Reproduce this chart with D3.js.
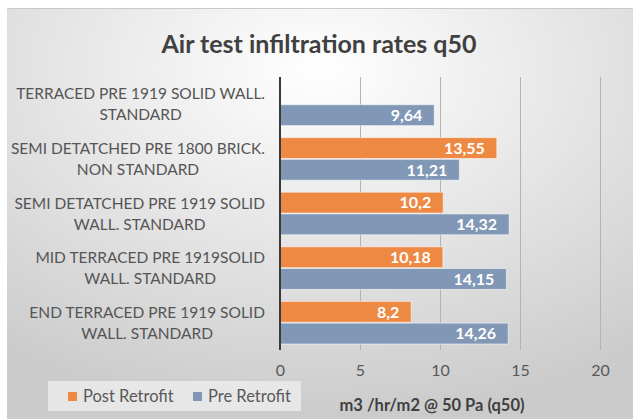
<!DOCTYPE html>
<html>
<head>
<meta charset="utf-8">
<script src="https://cdn.jsdelivr.net/npm/d3@7"></script>
<style>
  body { margin: 0; background: #fff; }
  svg { display: block; font-family: Lato, "Open Sans", sans-serif; }
</style>
</head>
<body>
<svg id="chart" width="633" height="419"></svg>
<script>
const width = 633;
const height = 419;

// data (top to bottom)
const categories = [
    ["TERRACED PRE 1919 SOLID WALL.", "STANDARD"],
    ["SEMI DETATCHED PRE 1800 BRICK.", "NON STANDARD"],
    ["SEMI DETATCHED PRE 1919 SOLID", "WALL. STANDARD"],
    ["MID TERRACED PRE 1919SOLID", "WALL. STANDARD"],
    ["END TERRACED PRE 1919 SOLID", "WALL. STANDARD"]
];
const postRetrofit = [null, 13.55, 10.2, 10.18, 8.2];
const preRetrofit = [9.64, 11.21, 14.32, 14.15, 14.26];
const seriesNames = ["Post Retrofit", "Pre Retrofit"];
const xTicks = [0, 5, 10, 15, 20];

const colors = ["#ee8944", "#8097b5"];
const fmt = v => String(v).replace(".", ",");

const svg = d3.select("#chart");

// background with soft gradient
const defs = svg.append("defs");
const grad = defs.append("radialGradient")
    .attr("id", "bg")
    .attr("cx", "50%").attr("cy", "15%").attr("r", "85%");
grad.append("stop").attr("offset", "0%").attr("stop-color", "#ffffff");
grad.append("stop").attr("offset", "100%").attr("stop-color", "#cbcbcb");

svg.append("rect")
    .attr("x", 7).attr("y", 8)
    .attr("width", width - 7).attr("height", height - 8)
    .attr("fill", "url(#bg)");
svg.append("line")
    .attr("x1", 7).attr("x2", width).attr("y1", 8.5).attr("y2", 8.5)
    .attr("stroke", "#c9c9c9");

const plot = { left: 280, right: 600, top: 77, bottom: 350 };

const x = d3.scaleLinear().domain([0, 20]).range([plot.left, plot.right]);
const y = d3.scaleBand()
    .domain(d3.range(categories.length))
    .range([plot.top, plot.bottom]);
const sub = d3.scaleBand()
    .domain([0, 1])
    .range([6, y.bandwidth() - 6])
    .paddingInner(0.04);

// title
svg.append("text")
    .attr("x", 319).attr("y", 53)
    .attr("text-anchor", "middle")
    .attr("font-size", 25).attr("font-weight", "bold")
    .attr("fill", "#404040")
    .text("Air test infiltration rates q50");

// grid + tick labels
const xAxis = svg.append("g")
    .attr("transform", `translate(0,${plot.bottom})`)
    .call(d3.axisBottom(x).tickValues(xTicks)
        .tickSize(-(plot.bottom - plot.top))
        .tickPadding(15));
xAxis.select(".domain").remove();
xAxis.selectAll(".tick line").attr("stroke", "#b3b3b3");
xAxis.selectAll(".tick text")
    .attr("font-size", 16).attr("fill", "#595959")
    .attr("font-family", "Lato, sans-serif");

// bars
const rows = categories.map((c, i) => [postRetrofit[i], preRetrofit[i]]);
const groups = svg.append("g").selectAll("g")
    .data(rows)
    .enter().append("g")
    .attr("transform", (d, i) => `translate(0,${y(i)})`);

const cells = groups.selectAll("g")
    .data(d => d.map((v, s) => ({ v, s })).filter(e => e.v != null))
    .enter().append("g");

cells.append("rect")
    .attr("x", x(0))
    .attr("y", d => sub(d.s))
    .attr("width", d => x(d.v) - x(0))
    .attr("height", sub.bandwidth())
    .attr("fill", d => colors[d.s])
    .attr("stroke", "rgba(255,255,255,0.55)")
    .attr("stroke-width", 1);

cells.append("text")
    .attr("x", d => x(d.v) - 12)
    .attr("y", d => sub(d.s) + sub.bandwidth() / 2)
    .attr("dy", "0.36em")
    .attr("text-anchor", "end")
    .attr("font-size", 16).attr("font-weight", "bold")
    .attr("fill", "#ffffff")
    .text(d => fmt(d.v));

// zero axis line
svg.append("line")
    .attr("x1", x(0)).attr("x2", x(0))
    .attr("y1", plot.top).attr("y2", plot.bottom)
    .attr("stroke", "#3a3a3a").attr("stroke-width", 2);

// category labels, wrapped block right aligned to the axis
const labelRight = 265;
categories.forEach((lines, i) => {
    const cy = y(i) + y.bandwidth() / 2;
    const g = svg.append("g");
    const texts = g.selectAll("text")
        .data(lines)
        .enter().append("text")
        .attr("y", (d, k) => cy + (k - (lines.length - 1) / 2) * 21)
        .attr("dy", "0.36em")
        .attr("text-anchor", "middle")
        .attr("font-size", 15.5)
        .attr("fill", "#555555")
        .text(d => d);
    let maxW = 0;
    texts.each(function () { maxW = Math.max(maxW, this.getComputedTextLength()); });
    texts.attr("x", labelRight - maxW / 2);
});

// axis title
svg.append("text")
    .attr("x", 432).attr("y", 405)
    .attr("dy", "0.36em")
    .attr("text-anchor", "middle")
    .attr("font-size", 16.5).attr("font-weight", "bold")
    .attr("fill", "#404040")
    .text("m3 /hr/m2 @ 50 Pa (q50)");

// legend
const legend = svg.append("g");
legend.append("rect")
    .attr("x", 48).attr("y", 381)
    .attr("width", 253).attr("height", 30)
    .attr("fill", "#ebebeb").attr("opacity", 0.85);
const legX = [68, 193];
seriesNames.forEach((name, s) => {
    legend.append("rect")
        .attr("x", legX[s]).attr("y", 392)
        .attr("width", 9).attr("height", 9)
        .attr("fill", colors[s]);
    legend.append("text")
        .attr("x", legX[s] + 15).attr("y", 396.5)
        .attr("dy", "0.36em")
        .attr("font-size", 16.5)
        .attr("fill", "#595959")
        .text(name);
});
</script>
</body>
</html>
